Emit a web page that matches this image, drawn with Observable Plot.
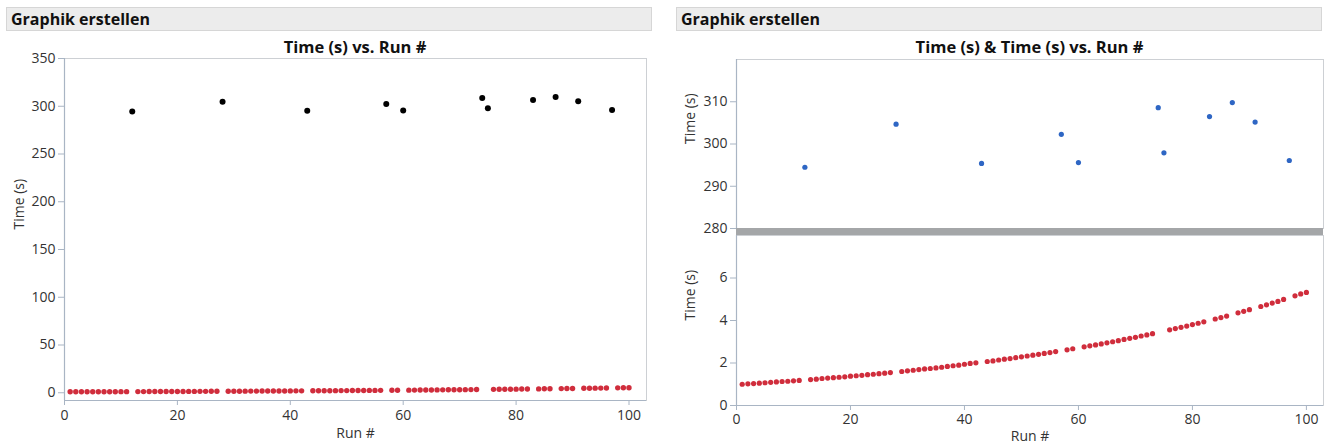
<!DOCTYPE html>
<html>
<head>
<meta charset="utf-8">
<script src="https://cdn.jsdelivr.net/npm/d3@7"></script>
<script src="https://cdn.jsdelivr.net/npm/@observablehq/plot@0.6"></script>
<style>
  html, body { margin: 0; padding: 0; background: #ffffff; width: 1328px; height: 448px; overflow: hidden; }
  body { position: relative; font-family: "Open Sans", "Noto Sans", sans-serif; color: #222; }
  .hdr { position: absolute; top: 7px; height: 24px; background: #ececec; border: 1px solid #d6d6d6;
         font-weight: bold; font-size: 16px; line-height: 23px; padding-left: 4px; box-sizing: border-box; color: #111; }
  .ttl { position: absolute; top: 36px; height: 22px; font-weight: bold; font-size: 16.5px; line-height: 22px;
         text-align: center; color: #111; }
  .pane { position: absolute; }
  .pane svg { overflow: visible; }
  .brk { position: absolute; background: #a4a6a8; }
</style>
</head>
<body>
<div class="hdr" style="left:6px; width:646px;">Graphik erstellen</div>
<div class="hdr" style="left:676px; width:646px;">Graphik erstellen</div>
<div class="ttl" style="left:64px; width:582px;">Time (s) vs. Run #</div>
<div class="ttl" style="left:736px; width:587px;">Time (s) &amp; Time (s) vs. Run #</div>
<div id="left" class="pane" style="left:0px; top:40px;"></div>
<div id="rtop" class="pane" style="left:668px; top:40px;"></div>
<div class="brk" style="left:736px; top:228px; width:587px; height:7px;"></div>
<div id="rbot" class="pane" style="left:668px; top:225px;"></div>
<script>
// ---- data ----
const normalRuns = [1,2,3,4,5,6,7,8,9,10,11,13,14,15,16,17,18,19,20,21,22,23,24,25,26,27,
  29,30,31,32,33,34,35,36,37,38,39,40,41,42,44,45,46,47,48,49,50,51,52,53,54,55,56,58,59,
  61,62,63,64,65,66,67,68,69,70,71,72,73,76,77,78,79,80,81,82,84,85,86,88,89,90,92,93,94,95,96,98,99,100];
const normalTimes = [1.00,1.02,1.03,1.05,1.07,1.09,1.11,1.13,1.14,1.16,1.18,1.22,1.24,1.27,1.29,1.31,1.33,1.35,1.38,1.40,1.42,1.45,1.47,1.50,1.52,1.55,
  1.60,1.63,1.66,1.69,1.72,1.74,1.77,1.80,1.84,1.87,1.90,1.94,1.98,2.01,2.07,2.10,2.14,2.18,2.21,2.25,2.29,2.33,2.37,2.41,2.45,2.49,2.54,2.62,2.67,
  2.76,2.81,2.85,2.90,2.95,3.00,3.05,3.11,3.16,3.21,3.27,3.32,3.38,3.56,3.62,3.68,3.74,3.81,3.87,3.94,4.07,4.14,4.21,4.36,4.43,4.51,4.66,4.74,4.82,4.90,4.99,5.16,5.25,5.32];
const outlierRuns = [12,28,43,57,60,74,75,83,87,91,97];
const outlierTimes = [294.5,304.7,295.4,302.3,295.6,308.6,297.9,306.5,309.8,305.2,296.1];
const xTicks = [0,20,40,60,80,100];
const leftYTicks = [0,50,100,150,200,250,300,350];
const upperYTicks = [280,290,300,310];
const lowerYTicks = [0,2,4,6];

const normal = normalRuns.map((r, i) => ({run: r, time: normalTimes[i]}));
const outliers = outlierRuns.map((r, i) => ({run: r, time: outlierTimes[i]}));

const FONT = '"Open Sans", "Noto Sans", sans-serif';
const AXIS = "#a9b5c4";
const FRAME = "#cdd0d4";
const RED = "#d02d3c";
const BLUE = "#2e66c4";
const styleObj = {fontFamily: FONT, fontSize: "14px", color: "#333", background: "transparent", overflow: "visible"};

// ---- left chart ----
const left = Plot.plot({
  width: 660, height: 408,
  marginLeft: 64, marginRight: 14, marginTop: 18, marginBottom: 48,
  style: styleObj,
  x: {domain: [0, 103.1]},
  y: {domain: [-8.1, 350]},
  marks: [
    Plot.frame({stroke: FRAME}),
    Plot.ruleX([0], {stroke: AXIS, strokeWidth: 1.2}),
    Plot.ruleY([-8.1], {stroke: AXIS, strokeWidth: 1.2}),
    Plot.axisX({ticks: xTicks, tickSize: 5, tickPadding: 5, stroke: AXIS, label: null, fill: "#333"}),
    Plot.axisY({ticks: leftYTicks, tickSize: 6, tickPadding: 3, stroke: AXIS, label: null, fill: "#333"}),
    Plot.text(["Run #"], {frameAnchor: "bottom", dy: 37, fill: "#333", fontSize: 14}),
    Plot.text(["Time (s)"], {frameAnchor: "left", dx: -45, rotate: -90, fill: "#333", fontSize: 14}),
    Plot.dot(normal, {x: "run", y: "time", r: 2.7, fill: RED, stroke: "none"}),
    Plot.dot(outliers, {x: "run", y: "time", r: 3, fill: "#000", stroke: "none"})
  ]
});
document.getElementById("left").append(left);

// ---- right upper chart ----
const rtop = Plot.plot({
  width: 660, height: 200,
  marginLeft: 68, marginRight: 5, marginTop: 19, marginBottom: 12,
  style: styleObj,
  x: {domain: [0, 103.0], axis: null},
  y: {domain: [280, 320]},
  marks: [
    Plot.frame({stroke: FRAME}),
    Plot.ruleX([0], {stroke: AXIS, strokeWidth: 1.2}),
    Plot.axisY({ticks: upperYTicks, tickSize: 6, tickPadding: 3, stroke: AXIS, label: null, fill: "#333"}),
    Plot.text(["Time (s)"], {frameAnchor: "left", dx: -46, rotate: -90, fill: "#333", fontSize: 14}),
    Plot.dot(outliers, {x: "run", y: "time", r: 2.6, fill: BLUE, stroke: "none"})
  ]
});
document.getElementById("rtop").append(rtop);

// ---- right lower chart ----
const rbot = Plot.plot({
  width: 660, height: 223,
  marginLeft: 68, marginRight: 5, marginTop: 10, marginBottom: 43,
  style: styleObj,
  x: {domain: [0, 103.0]},
  y: {domain: [0, 8]},
  marks: [
    Plot.frame({stroke: FRAME}),
    Plot.ruleX([0], {stroke: AXIS, strokeWidth: 1.2}),
    Plot.ruleY([0], {stroke: AXIS, strokeWidth: 1.2}),
    Plot.axisX({ticks: xTicks, tickSize: 5, tickPadding: 4, stroke: AXIS, label: null, fill: "#333"}),
    Plot.axisY({ticks: lowerYTicks, tickSize: 6, tickPadding: 3, stroke: AXIS, label: null, fill: "#333"}),
    Plot.text(["Run #"], {frameAnchor: "bottom", dy: 35, fill: "#333", fontSize: 14}),
    Plot.text(["Time (s)"], {frameAnchor: "left", dx: -46, rotate: -90, fill: "#333", fontSize: 14}),
    Plot.dot(normal, {x: "run", y: "time", r: 2.6, fill: RED, stroke: "none"})
  ]
});
document.getElementById("rbot").append(rbot);
</script>
</body>
</html>
